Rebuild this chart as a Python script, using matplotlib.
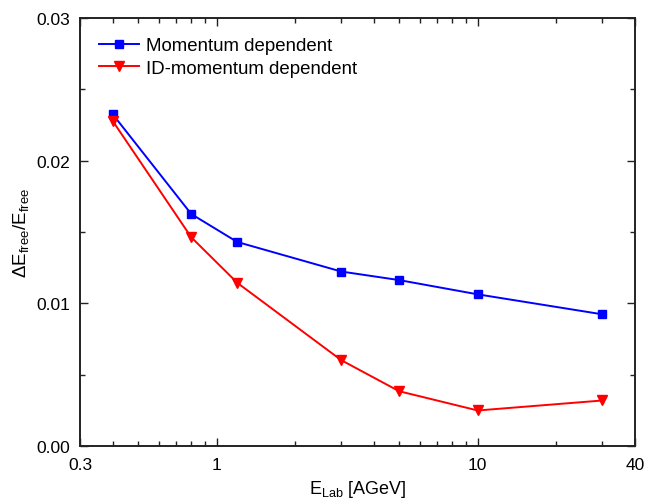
import matplotlib
matplotlib.use("Agg")
import matplotlib.pyplot as plt
from matplotlib.ticker import FixedLocator, FixedFormatter, LogLocator, NullFormatter, MultipleLocator

plt.rcParams['font.family'] = ['Liberation Sans', 'DejaVu Sans']
plt.rcParams['mathtext.fontset'] = 'custom'
plt.rcParams['mathtext.rm'] = 'Liberation Sans'
plt.rcParams['mathtext.it'] = 'Liberation Sans'
plt.rcParams['mathtext.sf'] = 'Liberation Sans'

energy = [0.4, 0.8, 1.2, 3, 5, 10, 30]
mom_dep = [0.02326, 0.01626, 0.0143, 0.01223, 0.01163, 0.01063, 0.00923]
id_mom_dep = [0.02279, 0.01463, 0.01144, 0.00602, 0.00384, 0.00249, 0.00319]
xtick_vals = [0.3, 1, 10, 40]
xtick_labels = ["0.3", "1", "10", "40"]
ytick_vals = [0.00, 0.01, 0.02, 0.03]
ytick_labels = ["0.00", "0.01", "0.02", "0.03"]

fig = plt.figure(figsize=(6.49, 5.02), dpi=100)
ax = fig.add_axes([80/649, 1-447/502, (635-80)/649, (447-19)/502])

ax.plot(energy, mom_dep, color='#0000ff', lw=1.4, marker='s', ms=5.5,
        label='Momentum dependent')
ax.plot(energy, id_mom_dep, color='#ff0000', lw=1.4, marker='v', ms=6.5,
        label='ID-momentum dependent')

ax.set_xscale('log')
ax.set_xlim(0.3, 40)
ax.set_ylim(0, 0.03)
ax.xaxis.set_major_locator(FixedLocator(xtick_vals))
ax.xaxis.set_major_formatter(FixedFormatter(xtick_labels))
ax.xaxis.set_minor_locator(LogLocator(base=10, subs=[2, 3, 4, 5, 6, 7, 8, 9]))
ax.xaxis.set_minor_formatter(NullFormatter())
ax.yaxis.set_major_locator(FixedLocator(ytick_vals))
ax.yaxis.set_major_formatter(FixedFormatter(ytick_labels))
ax.yaxis.set_minor_locator(MultipleLocator(0.005))

ax.tick_params(which='both', direction='in', top=True, right=True, labelsize=12.5, color='#222222')
ax.tick_params(which='major', length=6, width=1)
ax.tick_params(which='minor', length=3.5, width=1)
ax.tick_params(axis='x', which='major', pad=8)
ax.tick_params(axis='y', which='major', pad=7)
for s in ax.spines.values():
    s.set_linewidth(1.4)
    s.set_color('#222222')

ax.set_xlabel(r'$\mathrm{E}_{\mathrm{Lab}}$ [AGeV]', fontsize=13, labelpad=4)
ax.set_ylabel(r'$\Delta\mathrm{E}_{\mathrm{free}}/\mathrm{E}_{\mathrm{free}}$', fontsize=13.5, labelpad=4)

ax.legend(loc='upper left', bbox_to_anchor=(0.035, 0.955), frameon=False, fontsize=13.4,
          handlelength=2.15, handletextpad=0.35, borderaxespad=0.0, borderpad=0.0,
          labelspacing=0.3)

fig.savefig('out.png', dpi=100)
